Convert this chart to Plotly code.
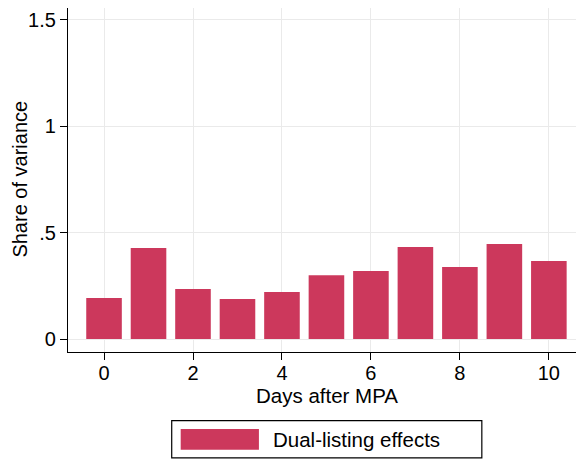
import plotly.graph_objects as go

days = [0, 1, 2, 3, 4, 5, 6, 7, 8, 9, 10]
share = [0.193, 0.427, 0.235, 0.188, 0.221, 0.300, 0.319, 0.432, 0.338, 0.446, 0.366]
series_name = "Dual-listing effects"
x_title = "Days after MPA"
y_title = "Share of variance"
ytick_vals = [0, 0.5, 1, 1.5]
ytick_text = ["0", ".5", "1", "1.5"]
xtick_vals = [0, 2, 4, 6, 8, 10]

BAR = "#CC385C"
FONT = "Liberation Sans, Arial, sans-serif"

fig = go.Figure()
fig.add_trace(go.Bar(x=days, y=share, width=0.8, marker=dict(color=BAR, line=dict(width=0)),
                     name=series_name, showlegend=False))

# the page body adds an 8px offset, so the figure is sized to fill the remaining window
fig.update_layout(
    width=576, height=451,
    margin=dict(l=60, r=0, t=0, b=107),
    paper_bgcolor="white", plot_bgcolor="white",
    font=dict(family=FONT, size=20, color="black"),
    xaxis=dict(range=[-0.81, 10.79], tickvals=xtick_vals, showgrid=True, gridcolor="#EAEAEA",
               gridwidth=1.3, showline=True, linecolor="black", linewidth=1.3, ticks="outside",
               ticklen=7, tickcolor="black", tickwidth=1.3, zeroline=False, automargin=False,
               tickfont=dict(size=20), ticklabelstandoff=-4),
    yaxis=dict(range=[-0.061, 1.555], tickvals=ytick_vals, ticktext=ytick_text, showgrid=True,
               gridcolor="#EAEAEA", gridwidth=1.3, showline=True, linecolor="black", linewidth=1.3,
               ticks="outside", ticklen=7, tickcolor="black", tickwidth=1.3, zeroline=False,
               automargin=False, tickfont=dict(size=20)),
    bargap=0.2,
)

# axis titles
fig.add_annotation(text=x_title, xref="paper", yref="paper", x=0.501, y=-0.125,
                   xanchor="center", yanchor="middle", showarrow=False,
                   font=dict(family=FONT, size=20.5, color="black"))
fig.add_annotation(text=y_title, xref="paper", yref="paper", x=-0.1163, y=0.504, textangle=-90,
                   xanchor="left", yanchor="middle", showarrow=False, borderpad=0,
                   font=dict(family=FONT, size=20, color="black"))

# legend drawn as box + swatch + label
fig.add_shape(type="rect", xref="paper", yref="paper", x0=0.201, x1=0.802, y0=-0.308, y1=-0.1997,
              line=dict(color="black", width=1.2), fillcolor="white")
fig.add_shape(type="rect", xref="paper", yref="paper", x0=0.2184, x1=0.370, y0=-0.284, y1=-0.2238,
              line=dict(width=0), fillcolor=BAR)
fig.add_annotation(text=series_name, xref="paper", yref="paper", x=0.3928, y=-0.2544,
                   xanchor="left", yanchor="middle", showarrow=False,
                   font=dict(family=FONT, size=20.5, color="black"))

fig.write_html("out.html")
